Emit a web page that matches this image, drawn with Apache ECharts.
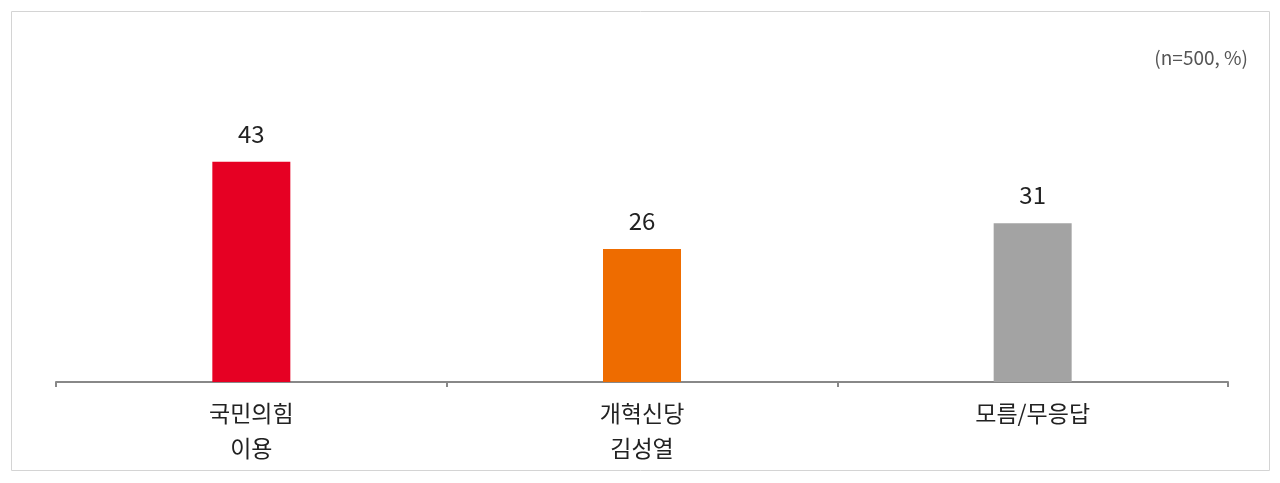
<!DOCTYPE html>
<html><head><meta charset="utf-8">
<script src="https://cdn.jsdelivr.net/npm/echarts@6/dist/echarts.min.js"></script>
<style>html,body{margin:0;padding:0;background:#fff}#c{width:1280px;height:483px}</style>
</head><body><div id="c"></div>
<script>
const categories = ['국민의힘\n이용', '개혁신당\n김성열', '모름/무응답'];
const values = [43, 26, 31];
const colors = ['#e60023', '#ee6c00', '#a3a3a3'];
const note = '(n=500, %)';

const chart = echarts.init(document.getElementById('c'));
chart.setOption({
  animation: false,
  textStyle: { fontFamily: 'Noto Sans CJK KR' },
  graphic: [
    { type: 'rect', shape: { x: 11.5, y: 11.5, width: 1258, height: 459 }, style: { fill: 'none', stroke: '#d4d4d4', lineWidth: 1 } },
    { type: 'text', right: 32, top: 48, style: { text: note, fontSize: 19, fill: '#555', fontFamily: 'Noto Sans CJK KR' } }
  ],
  grid: { left: 56, right: 52, top: 126, bottom: 101 },
  xAxis: {
    type: 'category', data: categories,
    axisLine: { lineStyle: { color: '#888', width: 2 } },
    axisTick: { show: true, length: 5, lineStyle: { color: '#888', width: 2 } },
    axisLabel: { fontSize: 23, color: '#222', lineHeight: 35, margin: 14, fontFamily: 'Noto Sans CJK KR' }
  },
  yAxis: { type: 'value', min: 0, max: 50, show: false, splitLine: { show: false } },
  series: [{
    type: 'bar', barWidth: 78,
    data: values.map((v, i) => ({ value: v, itemStyle: { color: colors[i] } })),
    label: { show: true, position: 'top', distance: 16, fontSize: 24, color: '#222', fontFamily: 'Noto Sans CJK KR' }
  }]
});
</script></body></html>
